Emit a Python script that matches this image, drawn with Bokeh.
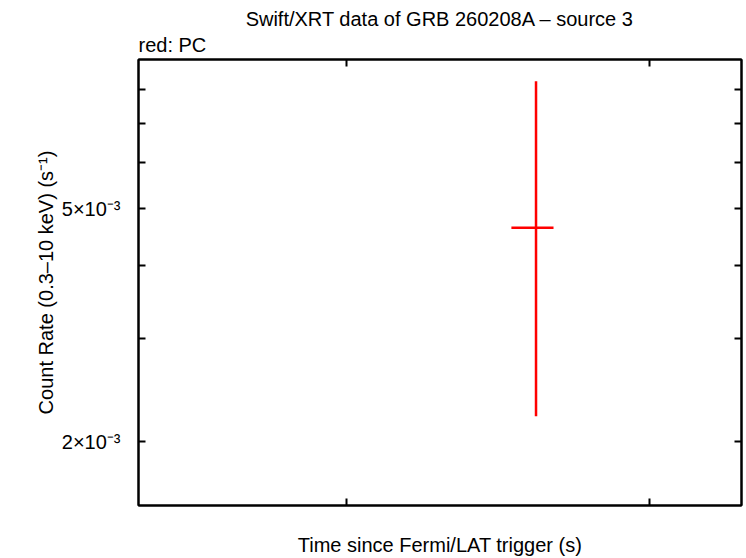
from bokeh.plotting import figure
from bokeh.models import FixedTicker, LogAxis, Title, Range1d, ColumnDataSource
from bokeh.embed import file_html
from bokeh.resources import INLINE

# data
t = [4.22e5]
t_lo = [3.50e5]
t_hi = [4.82e5]
rate = [4.64e-3]
rate_lo = [2.21e-3]
rate_hi = [8.26e-3]

y_ticks = [2e-3, 3e-3, 4e-3, 5e-3, 6e-3, 7e-3, 8e-3]
y_tick_labels = {2e-3: "2×10⁻³", 5e-3: "5×10⁻³"}
x_ticks = [1e5, 1e6]

title_text = "Swift/XRT data of GRB 260208A – source 3"
sub_text = "red: PC"
x_label = "Time since Fermi/LAT trigger (s)"
y_label = "Count Rate (0.3–10 keV) (s⁻¹)"

FONT = "Liberation Sans"
FS = "20px"

p = figure(width=746, height=558, x_axis_type="log", y_axis_type="log",
           x_range=Range1d(2.06e4, 2.01e6), y_range=Range1d(1.556e-3, 9.0e-3),
           output_backend="svg", toolbar_location=None, title=None,
           min_border_left=138, min_border_right=5, min_border_top=59, min_border_bottom=51)

p.grid.visible = False
p.background_fill_color = "white"
p.border_fill_color = "white"
p.outline_line_color = "black"
p.outline_line_width = 2

src = ColumnDataSource(dict(t=t, t_lo=t_lo, t_hi=t_hi, rate=rate, rate_lo=rate_lo, rate_hi=rate_hi))
p.segment(x0="t", x1="t", y0="rate_lo", y1="rate_hi", source=src, line_color="red", line_width=2.5)
p.segment(x0="t_lo", x1="t_hi", y0="rate", y1="rate", source=src, line_color="red", line_width=2.5)

overrides = {v: y_tick_labels.get(v, "") for v in y_ticks}
xover = {v: "" for v in x_ticks}

def style(ax):
    ax.axis_line_color = "black"
    ax.axis_line_width = 2
    ax.major_tick_line_color = "black"
    ax.major_tick_line_width = 2
    ax.major_tick_in = 7
    ax.major_tick_out = 0
    ax.minor_tick_line_color = None
    ax.major_label_text_font = FONT
    ax.major_label_text_font_size = FS
    ax.major_label_text_color = "black"
    ax.axis_label_text_font = FONT
    ax.axis_label_text_font_size = FS
    ax.axis_label_text_font_style = "normal"
    ax.axis_label_text_color = "black"

yax = p.yaxis[0]
yax.ticker = FixedTicker(ticks=y_ticks)
yax.major_label_overrides = overrides
style(yax)
yax.axis_label = y_label
yax.major_label_standoff = 18
yax.axis_label_standoff = 2

xax = p.xaxis[0]
xax.ticker = FixedTicker(ticks=x_ticks)
xax.major_label_overrides = xover
style(xax)
xax.axis_label = x_label
xax.axis_label_standoff = 28

ra = LogAxis(ticker=FixedTicker(ticks=y_ticks), major_label_overrides={v: "" for v in y_ticks})
style(ra)
ra.major_label_text_font_size = "0px"
p.add_layout(ra, "right")
ta = LogAxis(ticker=FixedTicker(ticks=x_ticks), major_label_overrides=xover)
style(ta)
ta.major_label_text_font_size = "0px"
p.add_layout(ta, "above")

p.add_layout(Title(text=sub_text, align="left", text_font=FONT, text_font_size=FS,
                   text_font_style="normal", text_color="black", standoff=8), "above")
p.add_layout(Title(text=title_text, align="center", text_font=FONT, text_font_size=FS,
                   text_font_style="normal", text_color="black", standoff=-5), "above")

open("out.html", "w").write(file_html(p, INLINE))
